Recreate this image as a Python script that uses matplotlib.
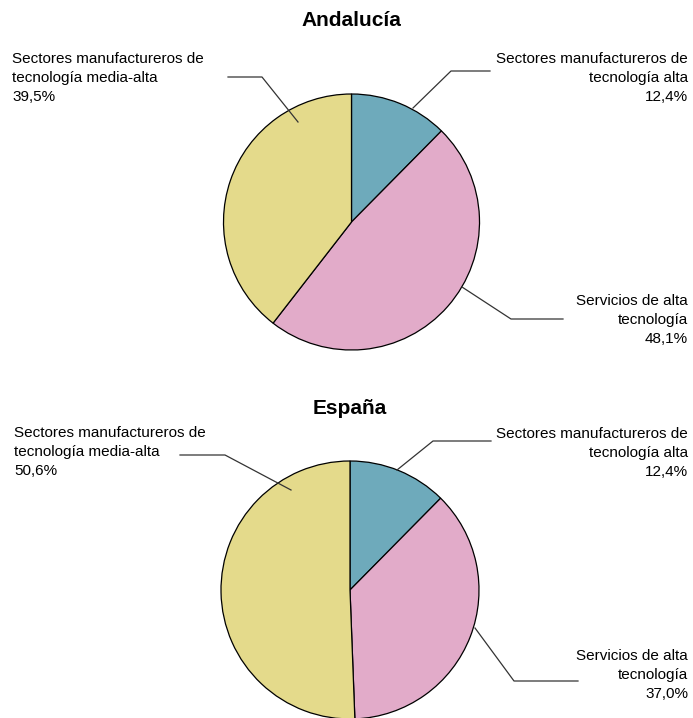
import matplotlib
matplotlib.use("Agg")
import matplotlib.pyplot as plt

plt.rcParams['font.family'] = ['Liberation Sans', 'DejaVu Sans']

regions = ["Andalucía", "España"]
categories = ["Sectores manufactureros de\ntecnología alta",
              "Servicios de alta\ntecnología",
              "Sectores manufactureros de\ntecnología media-alta"]
andalucia = [12.4, 48.1, 39.5]
espana = [12.4, 37.0, 50.6]
colors = ["#6eaabb", "#e2abc9", "#e4da8b"]

W, H = 693, 718
fig = plt.figure(figsize=(W / 100, H / 100), dpi=100)
ax = fig.add_axes([0, 0, 1, 1])

def Y(py):
    return H - py

def fmt(v):
    return f"{v:.1f}".replace(".", ",") + "%"

LS = 18.8  # pixel distance between label lines

layouts = [
    dict(center=(351.5, 222), r=128, title_y=20,
         labels=[  # (anchor x, first baseline y, ha, leader line points)
             (688, 63, 'right', [(413, 108), (451, 71), (490, 71)]),
             (688, 305, 'right', [(462, 287), (511, 319), (563, 319)]),
             (12, 63, 'left', [(298, 122), (262, 77), (228, 77)]),
         ]),
    dict(center=(350, 590), r=129, title_y=408,
         labels=[
             (688, 438, 'right', [(397, 470), (433, 441), (491, 441)]),
             (688, 660, 'right', [(475, 628), (514, 681), (578, 681)]),
             (14, 437, 'left', [(291, 490), (225, 455), (180, 455)]),
         ]),
]

for region, vals, lay in zip(regions, [andalucia, espana], layouts):
    cx, cy = lay['center']
    ax.pie(vals, colors=colors, startangle=90, counterclock=False,
           center=(cx, Y(cy)), radius=lay['r'], frame=True,
           wedgeprops=dict(edgecolor='black', linewidth=0.9))
    ax.text(cx, Y(lay['title_y']), region, ha='center', va='center',
            fontsize=15, fontweight='bold')
    for cat, v, (tx, ty, ha, pts) in zip(categories, vals, lay['labels']):
        lines = cat.split("\n") + [fmt(v)]
        for i, line in enumerate(lines):
            ax.text(tx, Y(ty + i * LS), line, ha=ha, va='baseline', fontsize=11)
        xs = [p[0] for p in pts]
        ys = [Y(p[1]) for p in pts]
        ax.plot(xs, ys, color='#333333', linewidth=0.9)

ax.set_xlim(0, W)
ax.set_ylim(0, H)
ax.set_aspect('equal')
ax.axis('off')
fig.savefig("out.png", dpi=100)
